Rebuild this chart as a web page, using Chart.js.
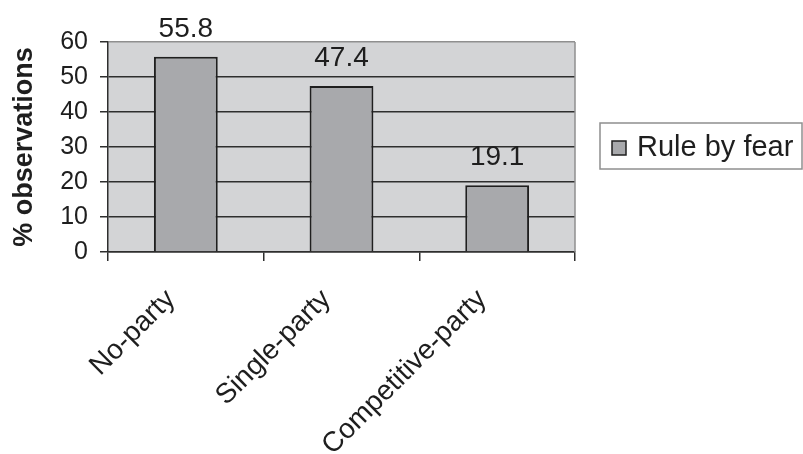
<!DOCTYPE html>
<html>
<head>
<meta charset="utf-8">
<script src="https://cdn.jsdelivr.net/npm/chart.js@4/dist/chart.umd.min.js"></script>
<style>
  html, body { margin: 0; padding: 0; background: #ffffff; }
  #wrap { width: 803px; height: 454px; }
</style>
</head>
<body>
<div id="wrap"><canvas id="chart" width="803" height="454"></canvas></div>
<script>
// Regime types and share of observations classed as "rule by fear"
const categories = ['No-party', 'Single-party', 'Competitive-party'];
const ruleByFear = [55.8, 47.4, 19.1];
const seriesName = 'Rule by fear';
const yTicks = [0, 10, 20, 30, 40, 50, 60];

const FONT = 'Liberation Sans, Arial, Helvetica, sans-serif';
const TEXT = '#1e1e1e';
const PLOT_BG = '#d3d4d6';
const BAR_FILL = '#a8a9ac';
const BAR_EDGE = '#1f1f1f';
const GRID = '#2e2e2e';
const FRAME = '#8f8f8f';

// Grey plot background plus the light frame on the right edge
const plotFrame = {
  id: 'plotFrame',
  beforeDraw(chart) {
    const { ctx, chartArea: a } = chart;
    ctx.save();
    ctx.fillStyle = PLOT_BG;
    ctx.fillRect(a.left, a.top, a.right - a.left, a.bottom - a.top);
    ctx.restore();
  },
  afterDraw(chart) {
    const { ctx, chartArea: a } = chart;
    ctx.save();
    ctx.strokeStyle = FRAME;
    ctx.lineWidth = 1.5;
    ctx.beginPath();
    ctx.moveTo(a.right, a.top);
    ctx.lineTo(a.right, a.bottom);
    ctx.stroke();
    ctx.restore();
  }
};

// Value written above each bar
const barValues = {
  id: 'barValues',
  afterDatasetsDraw(chart) {
    const { ctx } = chart;
    const meta = chart.getDatasetMeta(0);
    const data = chart.data.datasets[0].data;
    ctx.save();
    ctx.font = '28px ' + FONT;
    ctx.fillStyle = TEXT;
    ctx.textAlign = 'center';
    ctx.textBaseline = 'alphabetic';
    meta.data.forEach((bar, i) => {
      ctx.fillText(data[i].toFixed(1), bar.x, bar.y - 20);
    });
    ctx.restore();
  }
};

// Boxed legend to the right of the plot
const boxedLegend = {
  id: 'boxedLegend',
  afterDraw(chart) {
    const { ctx, chartArea: a } = chart;
    const ds = chart.data.datasets[0];
    const midY = (a.top + a.bottom) / 2 - 1;
    const boxL = a.right + 25, boxT = midY - 23, boxW = 202, boxH = 46;
    ctx.save();
    ctx.fillStyle = '#ffffff';
    ctx.fillRect(boxL, boxT, boxW, boxH);
    ctx.strokeStyle = FRAME;
    ctx.lineWidth = 1.5;
    ctx.strokeRect(boxL, boxT, boxW, boxH);
    ctx.fillStyle = ds.backgroundColor;
    ctx.fillRect(boxL + 12, midY - 5, 14, 14);
    ctx.strokeStyle = ds.borderColor;
    ctx.lineWidth = 1.5;
    ctx.strokeRect(boxL + 12, midY - 5, 14, 14);
    ctx.font = '29px ' + FONT;
    ctx.fillStyle = TEXT;
    ctx.textAlign = 'left';
    ctx.textBaseline = 'alphabetic';
    ctx.fillText(ds.label, boxL + 37, midY + 10);
    ctx.restore();
  }
};

new Chart(document.getElementById('chart'), {
  type: 'bar',
  data: {
    labels: categories,
    datasets: [{
      label: seriesName,
      data: ruleByFear,
      backgroundColor: BAR_FILL,
      borderColor: BAR_EDGE,
      borderWidth: 2,
      barPercentage: 0.41,
      categoryPercentage: 1.0
    }]
  },
  options: {
    responsive: false,
    devicePixelRatio: 1,
    animation: false,
    layout: { padding: { top: 42, right: 228, bottom: 0, left: 0 } },
    plugins: {
      legend: { display: false },
      tooltip: { enabled: false }
    },
    scales: {
      x: {
        offset: true,
        afterFit(scale) { scale.height = 202; },
        grid: {
          display: true,
          offset: true,
          drawOnChartArea: false,
          drawTicks: true,
          tickLength: 9,
          color: GRID,
          lineWidth: 1.5
        },
        border: { display: true, color: GRID, width: 1.5 },
        ticks: {
          autoSkip: false,
          minRotation: 45,
          maxRotation: 45,
          padding: 22,
          labelOffset: -15,
          color: TEXT,
          font: { family: FONT, size: 28 }
        }
      },
      y: {
        min: yTicks[0],
        max: yTicks[yTicks.length - 1],
        afterFit(scale) { scale.width = 108; },
        afterBuildTicks(scale) { scale.ticks = yTicks.map(v => ({ value: v })); },
        grid: {
          drawTicks: true,
          tickLength: 8,
          color: ctx => (ctx.tick && ctx.tick.value === yTicks[yTicks.length - 1]) ? FRAME : GRID,
          tickColor: GRID,
          lineWidth: 1.5
        },
        border: { display: true, color: GRID, width: 1.5 },
        ticks: {
          padding: 12,
          color: TEXT,
          font: { family: FONT, size: 25 }
        },
        title: {
          display: true,
          text: '% observations',
          color: TEXT,
          font: { family: FONT, size: 27, weight: 'bold' },
          padding: { top: 8, bottom: 0 }
        }
      }
    }
  },
  plugins: [plotFrame, barValues, boxedLegend]
});
</script>
</body>
</html>
